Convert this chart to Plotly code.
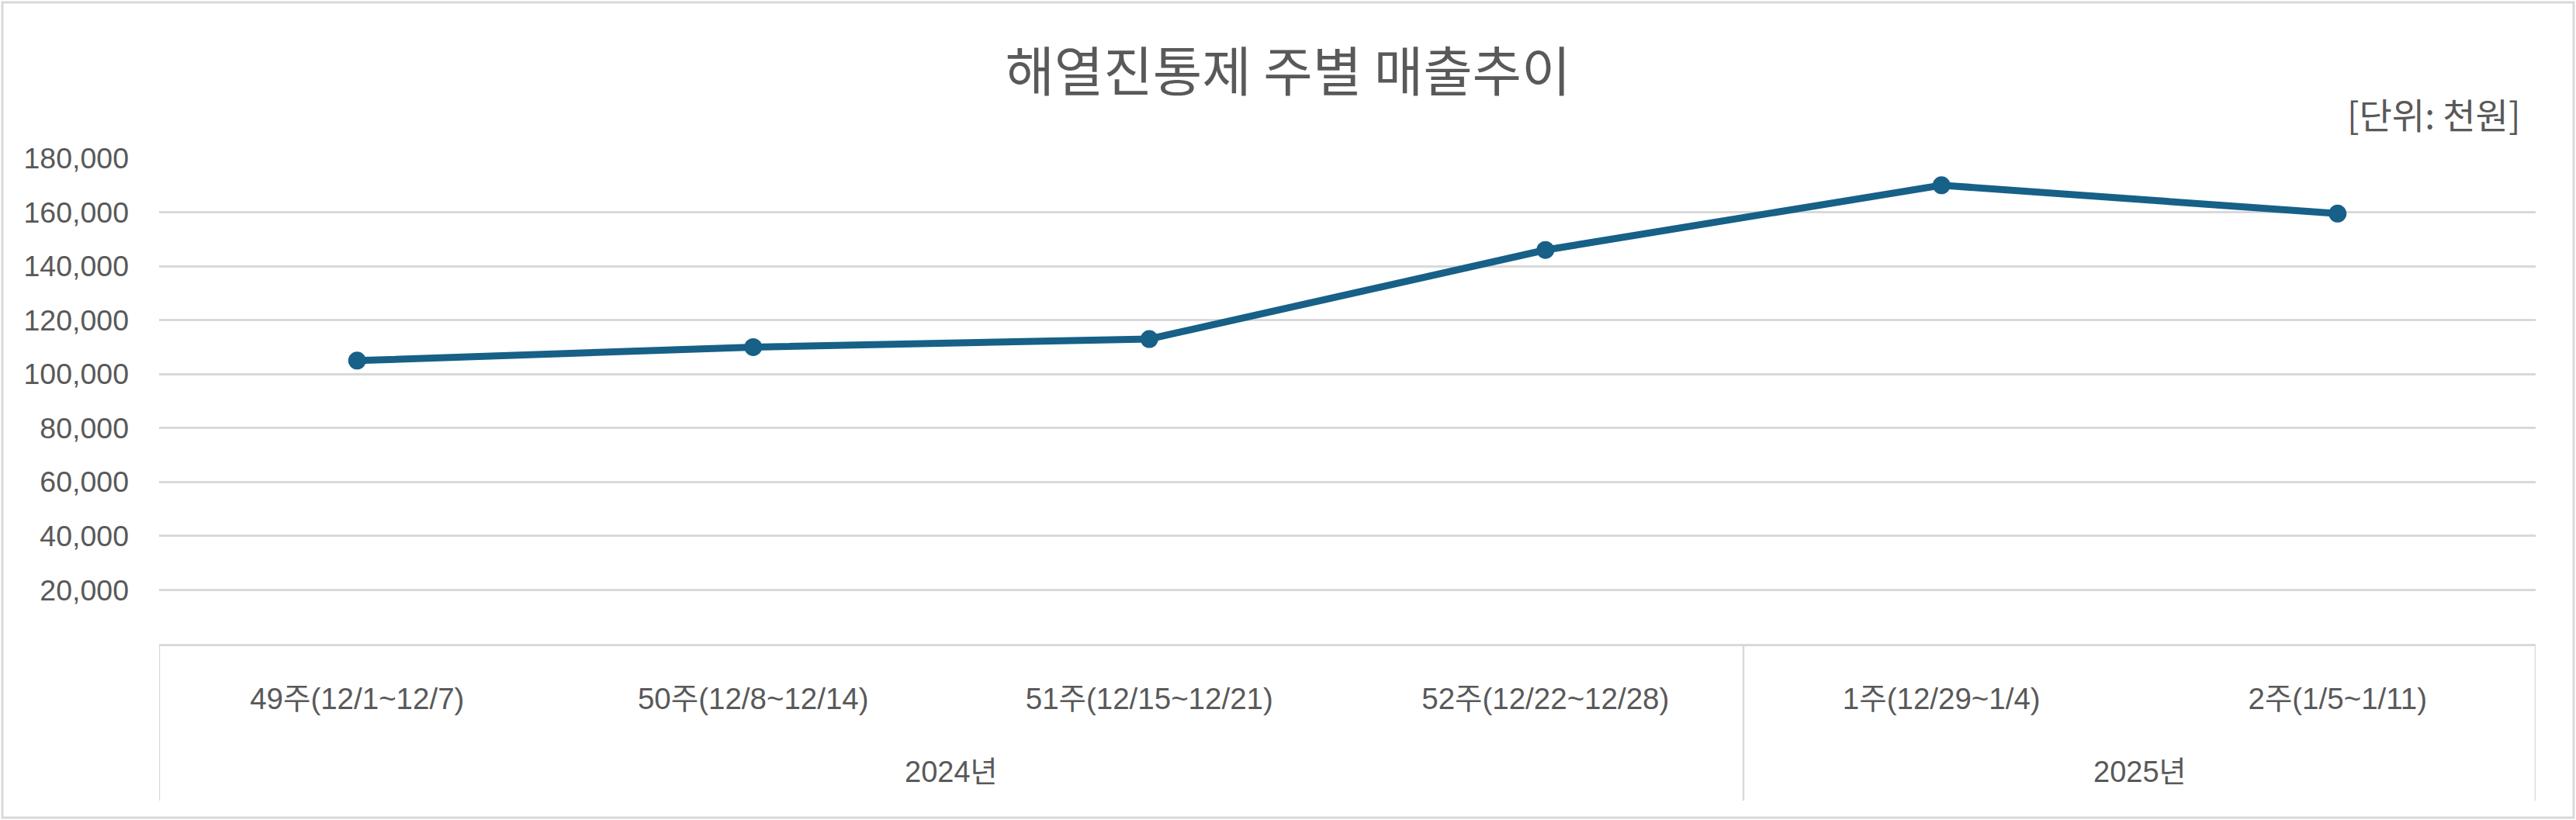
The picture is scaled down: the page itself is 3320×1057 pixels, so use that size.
import plotly.graph_objects as go

# ---- data ----
years = ["2024년", "2024년", "2024년", "2024년", "2025년", "2025년"]
weeks = ["49주(12/1~12/7)", "50주(12/8~12/14)", "51주(12/15~12/21)",
         "52주(12/22~12/28)", "1주(12/29~1/4)", "2주(1/5~1/11)"]
sales = [105000, 110000, 113000, 146000, 170000, 159500]
y_ticks = [20000, 40000, 60000, 80000, 100000, 120000, 140000, 160000, 180000]

title_text = "해열진통제 주별 매출추이"
unit_text = "[단위: 천원]"

LINE_COLOR = "#176087"
TEXT_COLOR = "#595959"
GRID_COLOR = "#d9d9d9"
FONT = "Liberation Sans, Arial, Noto Sans CJK KR, sans-serif"
KFONT = "Noto Sans CJK KR, sans-serif"

W, H = 3320, 1057
L, R, T, B = 205, 52, 204, 227
pw, ph = W - L - R, H - T - B

fig = go.Figure()
fig.add_trace(go.Scatter(
    x=weeks, y=sales, mode="lines+markers",
    line=dict(color=LINE_COLOR, width=9),
    marker=dict(color=LINE_COLOR, size=23),
    showlegend=False, hoverinfo="skip",
))

n = len(weeks)
fig.update_layout(
    width=W, height=H,
    margin=dict(l=L, r=R, t=T, b=B, pad=0),
    paper_bgcolor="white", plot_bgcolor="white",
    font=dict(family=FONT, color=TEXT_COLOR, size=37),
    title=dict(text=title_text, x=0.5, xref="container", xanchor="center",
               y=1 - 94 / H, yref="container", yanchor="middle",
               font=dict(family=KFONT, size=69, color=TEXT_COLOR)),
    xaxis=dict(
        type="category", range=[-0.5, n - 0.5],
        showline=True, linecolor=GRID_COLOR, linewidth=2.5,
        showgrid=False, zeroline=False, ticks="",
        ticklabelstandoff=35,
        tickfont=dict(family=FONT, size=38.5, color=TEXT_COLOR),
    ),
    yaxis=dict(
        range=[0, 180000], tickvals=y_ticks, tickformat=",",
        showgrid=True, gridcolor=GRID_COLOR, gridwidth=2.5,
        zeroline=False, showline=False,
        ticklabelstandoff=38,
        tickfont=dict(family=FONT, size=37.5, color=TEXT_COLOR),
    ),
)

# group (year) labels and box dividers, derived from the years list
box_bottom = (830 - 1032) / ph
groups = []
for i, yv in enumerate(years):
    if not groups or groups[-1][0] != yv:
        groups.append([yv, i, i])
    else:
        groups[-1][2] = i
boundaries = [g[1] - 0.5 for g in groups] + [groups[-1][2] + 0.5]
for b in boundaries:
    fig.add_shape(type="line", xref="x", yref="paper", x0=b, x1=b,
                  y0=0, y1=box_bottom, line=dict(color=GRID_COLOR, width=2.5))
for name, i0, i1 in groups:
    fig.add_annotation(text=name, xref="x", yref="paper",
                       x=(i0 + i1) / 2, y=(830 - 995) / ph,
                       xanchor="center", yanchor="middle", showarrow=False,
                       font=dict(family=FONT, size=38, color=TEXT_COLOR))

fig.add_annotation(
    text=unit_text, xref="paper", yref="paper",
    x=(3250 - L) / pw, y=(830 - 146) / ph, xanchor="right", yanchor="middle",
    showarrow=False, font=dict(family=KFONT, size=46, color=TEXT_COLOR),
)

# outer chart border
fig.add_shape(
    type="rect", xref="paper", yref="paper",
    x0=(3 - L) / pw, x1=(3317 - L) / pw,
    y0=(830 - 1054) / ph, y1=(830 - 3) / ph,
    line=dict(color=GRID_COLOR, width=3), layer="below",
)

fig.write_html("out.html")
